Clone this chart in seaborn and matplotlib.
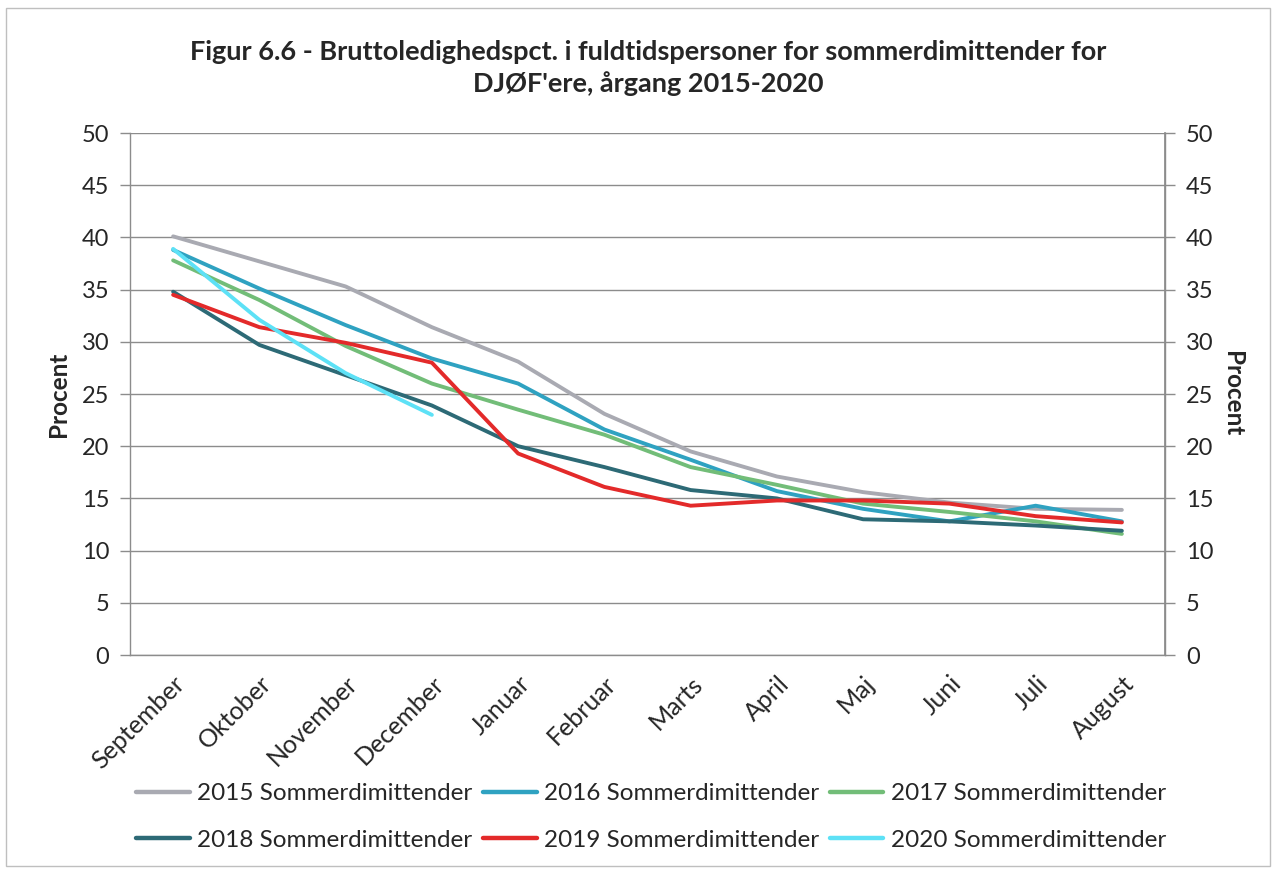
import numpy as np
import pandas as pd
import matplotlib
matplotlib.use("Agg")
import matplotlib.pyplot as plt
import seaborn as sns
from matplotlib.patches import Rectangle

months = ["September", "Oktober", "November", "December", "Januar", "Februar",
          "Marts", "April", "Maj", "Juni", "Juli", "August"]
s2015 = [40.1, 37.7, 35.3, 31.4, 28.1, 23.1, 19.5, 17.1, 15.6, 14.6, 14.0, 13.9]
s2016 = [38.8, 35.1, 31.6, 28.4, 26.0, 21.6, 18.7, 15.7, 14.0, 12.8, 14.3, 12.8]
s2017 = [37.8, 34.0, 29.6, 26.0, 23.5, 21.1, 18.0, 16.3, 14.5, 13.7, 12.8, 11.6]
s2018 = [34.8, 29.7, 26.8, 23.9, 20.0, 18.0, 15.8, 15.0, 13.0, 12.8, 12.4, 11.9]
s2019 = [34.5, 31.4, 29.9, 28.0, 19.3, 16.1, 14.3, 14.8, 14.8, 14.5, 13.3, 12.7]
s2020 = [38.9, 32.1, 27.0, 23.0]

series_names = ["2015 Sommerdimittender", "2016 Sommerdimittender", "2017 Sommerdimittender",
                "2018 Sommerdimittender", "2019 Sommerdimittender", "2020 Sommerdimittender"]
series_values = [s2015, s2016, s2017, s2018, s2019, s2020]
colors = ["#A9AAB2", "#2FA2C1", "#72BD78", "#2D6A76", "#E32A2A", "#5DE1F6"]

title = "Figur 6.6 - Bruttoledighedspct. i fuldtidspersoner for sommerdimittender for\nDJØF'ere, årgang 2015-2020"
ylabel = "Procent"

rows = []
for name, vals in zip(series_names, series_values):
    for i, v in enumerate(vals):
        rows.append({"pos": i, "month": months[i], "value": v, "serie": name})
df = pd.DataFrame(rows)

sns.set_theme(style="white")
plt.rcParams["font.family"] = ["Lato", "DejaVu Sans"]

fig = plt.figure(figsize=(12.76, 8.72), dpi=100)
ax = fig.add_axes([130/1276, 1 - 655/872, (1165-130)/1276, (655-133)/872])

sns.lineplot(data=df, x="pos", y="value", hue="serie", hue_order=series_names,
             palette=colors, linewidth=2.8, ax=ax, legend=True, sort=False)

ax.set_xlim(-0.5, len(months) - 0.5)
ax.set_ylim(0, 50)
ax.set_yticks(np.arange(0, 51, 5))
ax.yaxis.grid(True, color="#8C8C8C", linewidth=1.0)
ax.set_axisbelow(True)
ax.set_xticks(range(len(months)))
ax.set_xticklabels(months, rotation=45, ha="right", rotation_mode="anchor", fontsize=18)
ax.set_xticks(np.arange(-0.5, len(months), 1.0), minor=True)
ax.tick_params(axis="x", which="major", length=0, pad=12)
ax.tick_params(axis="x", which="minor", length=7, color="#8C8C8C", width=1.0, direction="out")
ax.tick_params(axis="y", length=7, color="#8C8C8C", width=1.0, direction="out", labelsize=17, pad=8)
ax.set_xlabel("")
ax.set_ylabel(ylabel, fontsize=17.5, fontweight="bold", labelpad=8)
for sp in ["left", "bottom", "right"]:
    ax.spines[sp].set_color("#8C8C8C")
    ax.spines[sp].set_linewidth(1.0)
ax.spines["top"].set_visible(False)

ax2 = ax.twinx()
ax2.set_ylim(0, 50)
ax2.set_yticks(np.arange(0, 51, 5))
ax2.tick_params(axis="y", length=7, color="#8C8C8C", width=1.0, direction="out", labelsize=17, pad=8)
ax2.set_ylabel(ylabel, fontsize=17.5, fontweight="bold", rotation=270, labelpad=22)
for sp in ["left", "bottom", "right", "top"]:
    ax2.spines[sp].set_visible(False)
ax2.spines["right"].set_visible(True)
ax2.spines["right"].set_color("#8C8C8C")
ax2.grid(False)

handles, labels = ax.get_legend_handles_labels()
ax.get_legend().remove()
order = [0, 3, 1, 4, 2, 5]
leg = fig.legend([handles[i] for i in order], [labels[i] for i in order],
                 loc="center", bbox_to_anchor=(651/1276, 1 - 817/872), ncol=3,
                 frameon=False, fontsize=17.5, handlelength=2.2, handletextpad=0.3,
                 columnspacing=0.45, labelspacing=1.05)
for h in leg.get_lines():
    h.set_linewidth(3.2)

fig.text(648/1276, 1 - 68/872, title, ha="center", va="center", fontsize=19.5,
         fontweight="bold", linespacing=1.3)

fig.patches.append(Rectangle((6/1276, 6/872), 1 - 12/1276, 1 - 14/872, transform=fig.transFigure,
                             fill=False, edgecolor="#BFBFBF", linewidth=1.0))

fig.savefig("out.png", dpi=100)
